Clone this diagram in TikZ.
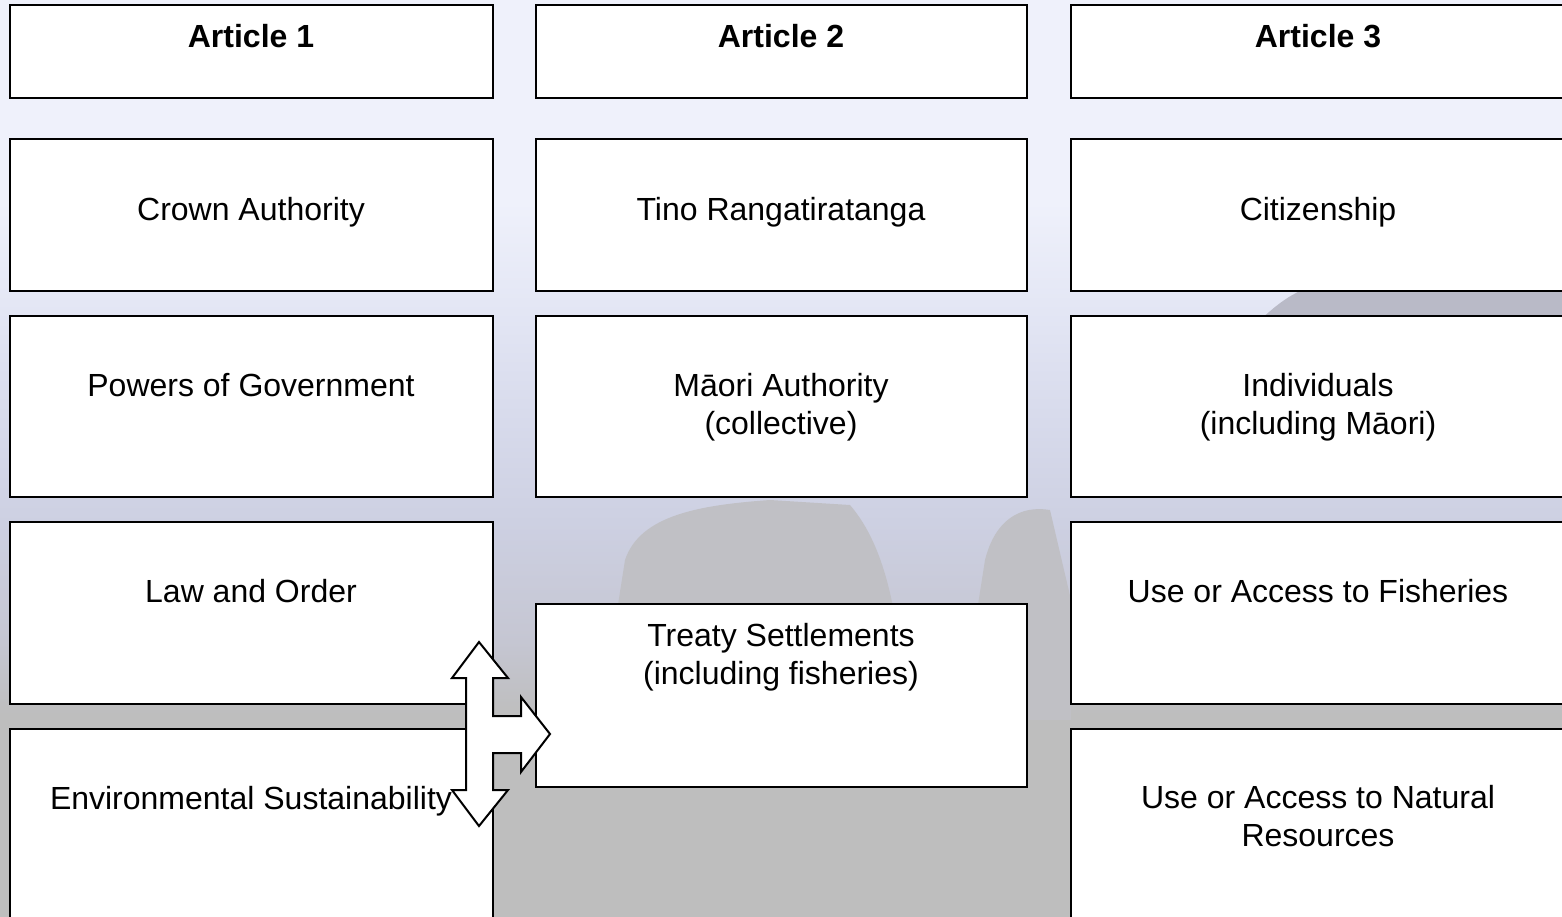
\documentclass[tikz,border=0pt]{standalone}
\usepackage{fontspec}
\setmainfont{Liberation Sans}
\usepackage{tikz}

\definecolor{sky}{HTML}{EFF1FB}
\definecolor{mist}{HTML}{E4E7F5}
\definecolor{haze}{HTML}{D9DCED}
\definecolor{water}{HTML}{CDD0E2}
\definecolor{shore}{HTML}{C5C6D2}
\definecolor{ground}{HTML}{BEBEBE}
\definecolor{rock}{HTML}{C0C0C5}
\definecolor{hill}{HTML}{B9BAC7}

% the path is fitted to 25bp--75bp of the shading
\pgfdeclareverticalshading{seaview}{100bp}{color(0bp)=(ground); color(36bp)=(ground);
  color(40bp)=(shore); color(46.5bp)=(water); color(53bp)=(haze); color(58.5bp)=(mist);
  color(64bp)=(sky); color(100bp)=(sky)}

\begin{document}
\begin{tikzpicture}[x=0.5pt,y=-0.5pt,
    box/.style={draw=black,line width=1pt,fill=white},
    lbl/.style={font=\fontsize{16}{19}\selectfont,align=center,anchor=base,inner sep=0pt},
    hd/.style={lbl,font=\fontsize{16}{19}\selectfont\bfseries}]
			\useasboundingbox (0,0) rectangle (1562,916);
			\clip (0,0) rectangle (1562,916);
			% background
			\shade[shading=seaview] (0,0) rectangle (1562,916);
			\fill[hill] (1250,330) .. controls (1280,300) and (1300,285) .. (1340,280) -- (1562,272) -- (1562,340) -- cycle;
			\fill[rock] (600,720) -- (625,560) .. controls (640,515) and (700,505) .. (770,500) -- (850,505) .. controls (880,540) and (900,600) .. (905,720) -- cycle;
			\fill[rock] (960,720) -- (985,560) .. controls (995,520) and (1020,505) .. (1050,510) -- (1071,600) -- (1071,720) -- cycle;
			% article 1
			\draw[box] (10,5) rectangle (493,98);
			\draw[box] (10,139) rectangle (493,291);
			\draw[box] (10,316) rectangle (493,497);
			\draw[box] (10,522) rectangle (493,704);
			\draw[box] (10,729) rectangle (493,930);
			% article 2
			\draw[box] (536,5) rectangle (1027,98);
			\draw[box] (536,139) rectangle (1027,291);
			\draw[box] (536,316) rectangle (1027,497);
			\draw[box] (536,604) rectangle (1027,787);
			% article 3
			\draw[box] (1071,5) rectangle (1566,98);
			\draw[box] (1071,139) rectangle (1566,291);
			\draw[box] (1071,316) rectangle (1566,497);
			\draw[box] (1071,522) rectangle (1566,704);
			\draw[box] (1071,729) rectangle (1566,930);
			% labels (multi-line ones sit on their last line)
			\node[hd] (art1) at (251,47) {Article 1};
			\node[hd] (art2) at (781,47) {Article 2};
			\node[hd] (art3) at (1318,47) {Article 3};
			\node[lbl] (crown) at (251,220) {Crown Authority};
			\node[lbl] (tino) at (781,220) {Tino Rangatiratanga};
			\node[lbl] (citizen) at (1318,220) {Citizenship};
			\node[lbl] (powers) at (251,396) {Powers of Government};
			\node[lbl] (maori) at (781,434) {Māori Authority\\(collective)};
			\node[lbl] (indiv) at (1318,434) {Individuals\\(including Māori)};
			\node[lbl] (law) at (251,602) {Law and Order};
			\node[lbl] (fish) at (1318,602) {Use or Access to Fisheries};
			\node[lbl] (treaty) at (781,684) {Treaty Settlements\\(including fisheries)};
			\node[lbl] (enviro) at (251,809) {Environmental Sustainability};
			\node[lbl] (natres) at (1318,846) {Use or Access to Natural\\Resources};
			% three way arrow
			\filldraw[fill=white,draw=black,line width=1pt,line join=miter]
				(479,642) -- (508,678) -- (493,678) -- (493,716) -- (521,716) -- (521,697)
				-- (550,734) -- (521,772) -- (521,753) -- (493,753) -- (493,790) -- (508,790)
				-- (479,826) -- (452,790) -- (466,790) -- (466,678) -- (452,678) -- cycle;
		\end{tikzpicture}
\end{document}
